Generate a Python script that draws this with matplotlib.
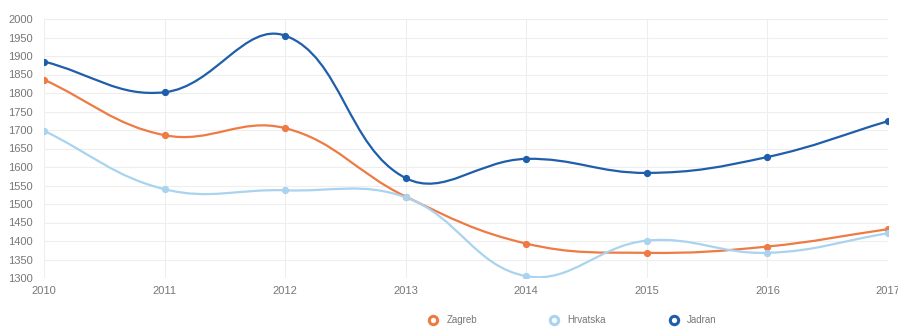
import numpy as np
import matplotlib
matplotlib.use("Agg")
import matplotlib.pyplot as plt
from matplotlib.path import Path
from matplotlib.patches import PathPatch
from matplotlib.lines import Line2D

years = [2010, 2011, 2012, 2013, 2014, 2015, 2016, 2017]
zagreb = [1836, 1686, 1705, 1520, 1393, 1368, 1385, 1432]
hrvatska = [1698, 1540, 1537, 1518, 1305, 1401, 1368, 1421]
jadran = [1885, 1802, 1955, 1570, 1622, 1584, 1627, 1724]

series_names = ["Zagreb", "Hrvatska", "Jadran"]
series_colors = ["#ee7a44", "#a9d3ef", "#1f5eaa"]
y_ticks = list(range(1300, 2001, 50))

plt.rcParams['font.family'] = ['Liberation Sans', 'DejaVu Sans']

fig = plt.figure(figsize=(8.98, 3.30), dpi=100)
ax = fig.add_axes([44/898, 1-278/330, (888-44)/898, (278-19)/330])
ax.set_xlim(2010, 2017)
ax.set_ylim(1300, 2000)


def spline_path(xs, ys, tension=0.4):
    # Chart.js style bezier control points computed in display space
    pts = ax.transData.transform(np.column_stack([xs, ys]))
    n = len(pts)
    verts = [pts[0]]
    codes = [Path.MOVETO]
    cps = []
    for i in range(n):
        prev = pts[i-1] if i > 0 else pts[i]
        cur = pts[i]
        nxt = pts[i+1] if i < n-1 else pts[i]
        d01 = np.hypot(*(cur - prev))
        d12 = np.hypot(*(nxt - cur))
        tot = d01 + d12
        s01 = d01 / tot if tot else 0
        s12 = d12 / tot if tot else 0
        fa = tension * s01
        fb = tension * s12
        cp_prev = cur - fa * (nxt - prev)
        cp_next = cur + fb * (nxt - prev)
        cps.append((cp_prev, cp_next))
    for i in range(1, n):
        verts += [cps[i-1][1], cps[i][0], pts[i]]
        codes += [Path.CURVE4] * 3
    verts = ax.transData.inverted().transform(np.array(verts))
    return Path(verts, codes)


for vals, col in zip([zagreb, hrvatska, jadran], series_colors):
    p = spline_path(years, vals)
    ax.add_patch(PathPatch(p, facecolor='none', edgecolor=col, lw=1.6, zorder=3))
    ax.plot(years, vals, 'o', color=col, ms=4.2, zorder=4, mec=col)

ax.set_xticks(years)
ax.set_yticks(y_ticks)
ax.grid(True, color='#eeeeee', lw=0.8)
ax.set_axisbelow(True)
for s in ax.spines.values():
    s.set_visible(False)
ax.tick_params(length=0, labelsize=8, colors='#777777', pad=6)
ax.tick_params(axis='y', pad=8)

centers = [435, 556, 676]
for name, col, cx in zip(series_names, series_colors, centers):
    h = Line2D([], [], marker='o', ls='none', mfc='white', mec=col, mew=2.2, ms=6)
    fig.legend([h], [name], loc='center left', bbox_to_anchor=((cx-12)/898, 1-320/330),
               frameon=False, fontsize=7, labelcolor='#777777', handletextpad=0.4,
               borderpad=0, borderaxespad=0)

fig.savefig('out.png', dpi=100)
